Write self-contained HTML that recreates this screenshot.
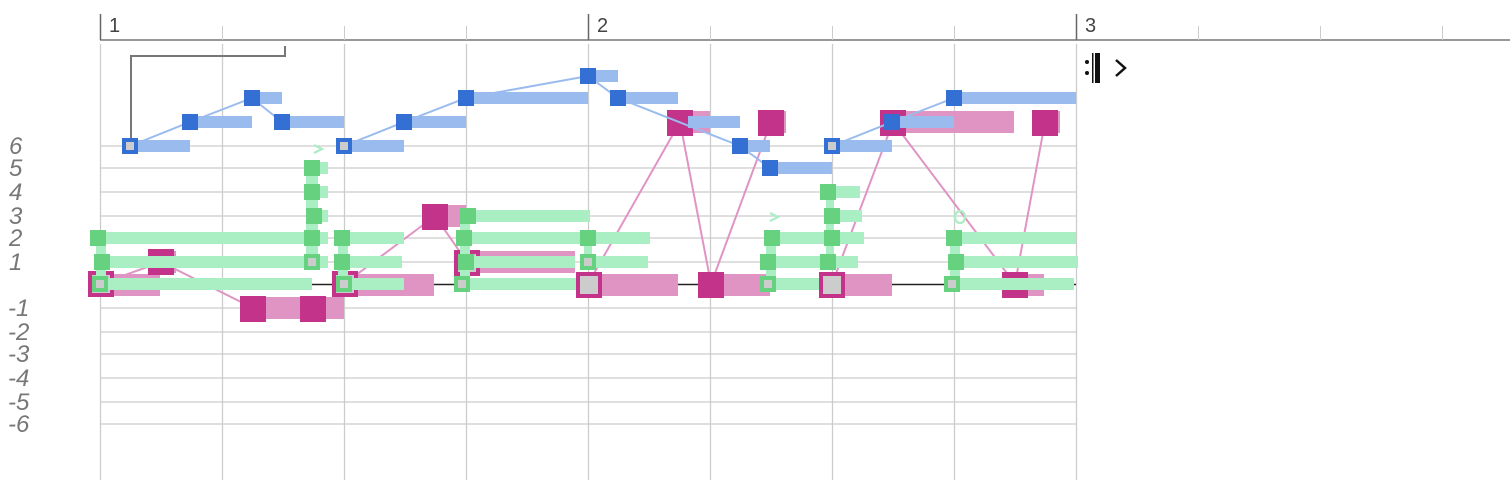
<!DOCTYPE html>
<html><head><meta charset="utf-8"><style>
html,body{margin:0;padding:0;background:#fff;width:1510px;height:484px;overflow:hidden}
svg{display:block}
text{font-family:"Liberation Sans",sans-serif}
.lab{font-style:italic;font-size:24px;fill:#777}
</style></head><body>
<svg width="1510" height="484" viewBox="0 0 1510 484" xmlns="http://www.w3.org/2000/svg">
<!-- ruler -->
<line x1="100" y1="40" x2="1510" y2="40" stroke="#777" stroke-width="1.5"/>
<g stroke="#666" stroke-width="1.5">
<line x1="100.5" y1="14" x2="100.5" y2="40"/><line x1="588.5" y1="14" x2="588.5" y2="40"/><line x1="1076.5" y1="14" x2="1076.5" y2="40"/>
</g>
<g stroke="#ccc" stroke-width="1">
<line x1="222.5" y1="26" x2="222.5" y2="40"/><line x1="344.5" y1="26" x2="344.5" y2="40"/><line x1="466.5" y1="26" x2="466.5" y2="40"/>
<line x1="710.5" y1="26" x2="710.5" y2="40"/><line x1="832.5" y1="26" x2="832.5" y2="40"/><line x1="954.5" y1="26" x2="954.5" y2="40"/>
<line x1="1198.5" y1="26" x2="1198.5" y2="40"/><line x1="1320.5" y1="26" x2="1320.5" y2="40"/><line x1="1442.5" y1="26" x2="1442.5" y2="40"/>
</g>
<text x="109" y="32" font-size="20" fill="#444">1</text>
<text x="597" y="32" font-size="20" fill="#444">2</text>
<text x="1085" y="32" font-size="20" fill="#444">3</text>
<!-- grid -->
<g stroke="#ccc" stroke-width="1.3">
<line x1="100.5" y1="44" x2="100.5" y2="480"/><line x1="222.5" y1="44" x2="222.5" y2="480"/><line x1="344.5" y1="44" x2="344.5" y2="480"/><line x1="466.5" y1="44" x2="466.5" y2="480"/>
<line x1="588.5" y1="44" x2="588.5" y2="480"/><line x1="710.5" y1="44" x2="710.5" y2="480"/><line x1="832.5" y1="44" x2="832.5" y2="480"/><line x1="954.5" y1="44" x2="954.5" y2="480"/><line x1="1076.5" y1="44" x2="1076.5" y2="480"/>
<line x1="100" y1="146" x2="1076" y2="146"/><line x1="100" y1="168" x2="1076" y2="168"/><line x1="100" y1="192" x2="1076" y2="192"/><line x1="100" y1="216" x2="1076" y2="216"/>
<line x1="100" y1="238" x2="1076" y2="238"/><line x1="100" y1="262" x2="1076" y2="262"/>
<line x1="100" y1="308" x2="1076" y2="308"/><line x1="100" y1="332" x2="1076" y2="332"/><line x1="100" y1="354" x2="1076" y2="354"/><line x1="100" y1="378" x2="1076" y2="378"/><line x1="100" y1="402" x2="1076" y2="402"/><line x1="100" y1="424" x2="1076" y2="424"/>
</g>
<line x1="100" y1="284.5" x2="1076" y2="284.5" stroke="#222" stroke-width="1.5"/>
<!-- labels -->
<g class="lab">
<text x="9" y="154">6</text><text x="9" y="176">5</text><text x="9" y="200">4</text><text x="9" y="224">3</text><text x="9" y="246">2</text><text x="9" y="270">1</text>
<text x="8" y="316">-1</text><text x="8" y="340">-2</text><text x="8" y="362">-3</text><text x="8" y="386">-4</text><text x="8" y="410">-5</text><text x="8" y="432">-6</text>
</g>
<!-- bracket -->
<polyline points="131,140 131,56 285,56 285,46" fill="none" stroke="#777" stroke-width="2"/>
<!-- magenta lines -->
<g stroke="#e094c4" stroke-width="2" fill="none">
<polyline points="100,284 161,262 253,308"/>
<polyline points="344,284 435,216 467,262"/>
<polyline points="588,284 680,122 711,284 771,122"/>
<polyline points="832,284 893,122 1015,284 1045,122"/>
</g>
<!-- magenta bars -->
<g fill="#e094c4">
<rect x="114" y="274" width="46" height="22"/><rect x="174" y="251" width="2" height="22"/>
<rect x="266" y="297" width="34" height="22"/><rect x="326" y="297" width="18" height="22"/>
<rect x="357" y="274" width="77" height="22"/><rect x="448" y="205" width="18" height="22"/>
<rect x="480" y="251" width="95" height="22"/>
<rect x="601" y="274" width="77" height="22"/><rect x="693" y="111" width="17" height="22"/>
<rect x="724" y="274" width="46" height="22"/><rect x="784" y="111" width="2" height="22"/>
<rect x="845" y="274" width="47" height="22"/><rect x="906" y="111" width="108" height="22"/>
<rect x="1028" y="274" width="16" height="22"/><rect x="1058" y="111" width="2" height="22"/>
</g>
<!-- magenta squares -->
<g fill="#c4338a">
<rect x="88" y="271" width="26" height="26"/><rect x="148" y="249" width="26" height="26"/>
<rect x="240" y="296" width="26" height="26"/><rect x="300" y="296" width="26" height="26"/>
<rect x="332" y="271" width="26" height="26"/><rect x="422" y="204" width="26" height="26"/>
<rect x="454" y="250" width="26" height="26"/>
<rect x="667" y="110" width="26" height="26"/>
<rect x="698" y="272" width="26" height="26"/><rect x="758" y="110" width="26" height="26"/>
<rect x="880" y="110" width="26" height="26"/>
<rect x="1002" y="272" width="26" height="26"/><rect x="1032" y="110" width="26" height="26"/>
</g>
<g fill="#ccc">
<rect x="92" y="275" width="18" height="18"/><rect x="336" y="275" width="18" height="18"/><rect x="458" y="254" width="18" height="18"/>
</g>
<!-- green stems -->
<g fill="#aaeec4">
<rect x="96" y="238" width="10" height="46"/><rect x="306" y="168" width="12" height="94"/>
<rect x="338" y="238" width="10" height="46"/><rect x="460" y="216" width="10" height="68"/>
<rect x="584" y="238" width="8" height="24"/><rect x="766" y="238" width="10" height="46"/>
<rect x="826" y="192" width="8" height="70"/><rect x="950" y="238" width="10" height="46"/>
</g>
<!-- green bars -->
<g fill="#aaeec4">
<rect x="106" y="232" width="222" height="12"/><rect x="110" y="256" width="218" height="12"/><rect x="108" y="278" width="204" height="12"/>
<rect x="320" y="162" width="8" height="12"/><rect x="320" y="186" width="8" height="12"/><rect x="322" y="210" width="6" height="12"/>
<rect x="350" y="232" width="54" height="12"/><rect x="350" y="256" width="52" height="12"/><rect x="352" y="278" width="52" height="12"/>
<rect x="476" y="210" width="114" height="12"/><rect x="472" y="232" width="178" height="12"/><rect x="474" y="256" width="101" height="12"/><rect x="470" y="278" width="118" height="12"/>
<rect x="596" y="256" width="52" height="12"/>
<rect x="780" y="232" width="84" height="12"/><rect x="776" y="256" width="82" height="12"/><rect x="776" y="278" width="56" height="12"/>
<rect x="836" y="186" width="24" height="12"/><rect x="840" y="210" width="22" height="12"/>
<rect x="962" y="232" width="114" height="12"/><rect x="964" y="256" width="114" height="12"/><rect x="960" y="278" width="114" height="12"/>
</g>
<!-- big outlined magenta on top of green -->
<g fill="#c4338a"><rect x="576" y="272" width="26" height="26"/><rect x="819" y="272" width="26" height="26"/></g>
<g fill="#ccc"><rect x="580" y="276" width="18" height="18"/><rect x="823" y="276" width="18" height="18"/></g>
<!-- green squares -->
<g fill="#66d17e">
<rect x="90" y="230" width="16" height="16"/><rect x="94" y="254" width="16" height="16"/><rect x="92" y="276" width="16" height="16"/>
<rect x="304" y="160" width="16" height="16"/><rect x="304" y="184" width="16" height="16"/><rect x="306" y="208" width="16" height="16"/><rect x="304" y="230" width="16" height="16"/><rect x="304" y="254" width="16" height="16"/>
<rect x="334" y="230" width="16" height="16"/><rect x="334" y="254" width="16" height="16"/><rect x="336" y="276" width="16" height="16"/>
<rect x="460" y="208" width="16" height="16"/><rect x="456" y="230" width="16" height="16"/><rect x="458" y="254" width="16" height="16"/><rect x="454" y="276" width="16" height="16"/>
<rect x="580" y="230" width="16" height="16"/><rect x="580" y="254" width="16" height="16"/>
<rect x="764" y="230" width="16" height="16"/><rect x="760" y="254" width="16" height="16"/><rect x="760" y="276" width="16" height="16"/>
<rect x="820" y="184" width="16" height="16"/><rect x="824" y="208" width="16" height="16"/><rect x="824" y="230" width="16" height="16"/><rect x="820" y="254" width="16" height="16"/>
<rect x="946" y="230" width="16" height="16"/><rect x="948" y="254" width="16" height="16"/><rect x="944" y="276" width="16" height="16"/>
</g>
<g fill="#ccc">
<rect x="96" y="280" width="8" height="8"/><rect x="308" y="258" width="8" height="8"/><rect x="340" y="280" width="8" height="8"/>
<rect x="458" y="280" width="8" height="8"/><rect x="584" y="258" width="8" height="8"/><rect x="764" y="280" width="8" height="8"/><rect x="948" y="280" width="8" height="8"/>
</g>
<g fill="none" stroke="#aaeec4" stroke-width="2.2">
<polyline points="314,145 322,149 314,153"/><polyline points="770,213 778,217 770,221"/>
<ellipse cx="960" cy="217" rx="5" ry="6"/>
</g>
<!-- blue lines -->
<g stroke="#99bbee" stroke-width="2" fill="none">
<polyline points="130,146 190,122 252,98 282,122"/>
<polyline points="344,146 404,122 466,98 588,76 618,98 740,146 770,168"/>
<polyline points="832,146 892,122 954,98"/>
</g>
<g fill="#99bbee">
<rect x="138" y="140" width="52" height="12"/><rect x="198" y="116" width="54" height="12"/><rect x="260" y="92" width="22" height="12"/><rect x="290" y="116" width="54" height="12"/>
<rect x="352" y="140" width="52" height="12"/><rect x="412" y="116" width="54" height="12"/><rect x="474" y="92" width="114" height="12"/><rect x="596" y="70" width="22" height="12"/>
<rect x="626" y="92" width="52" height="12"/><rect x="688" y="116" width="52" height="12"/><rect x="748" y="140" width="22" height="12"/><rect x="778" y="162" width="54" height="12"/>
<rect x="840" y="140" width="52" height="12"/><rect x="900" y="116" width="54" height="12"/><rect x="962" y="92" width="114" height="12"/>
</g>
<g fill="#3470d4">
<rect x="122" y="138" width="16" height="16"/><rect x="182" y="114" width="16" height="16"/><rect x="244" y="90" width="16" height="16"/><rect x="274" y="114" width="16" height="16"/>
<rect x="336" y="138" width="16" height="16"/><rect x="396" y="114" width="16" height="16"/><rect x="458" y="90" width="16" height="16"/><rect x="580" y="68" width="16" height="16"/>
<rect x="610" y="90" width="16" height="16"/><rect x="732" y="138" width="16" height="16"/><rect x="762" y="160" width="16" height="16"/>
<rect x="824" y="138" width="16" height="16"/><rect x="884" y="114" width="16" height="16"/><rect x="946" y="90" width="16" height="16"/>
</g>
<g fill="#ccc"><rect x="126" y="142" width="8" height="8"/><rect x="340" y="142" width="8" height="8"/><rect x="828" y="142" width="8" height="8"/></g>
<!-- repeat sign -->
<circle cx="1087" cy="62" r="2" fill="#111"/><circle cx="1087" cy="73" r="2" fill="#111"/>
<rect x="1092" y="53" width="1.5" height="30" fill="#111"/><rect x="1095" y="53" width="5" height="30" fill="#111"/>
<polyline points="1116,60 1125,68 1116,76" fill="none" stroke="#111" stroke-width="2.5"/>
</svg>
</body></html>
